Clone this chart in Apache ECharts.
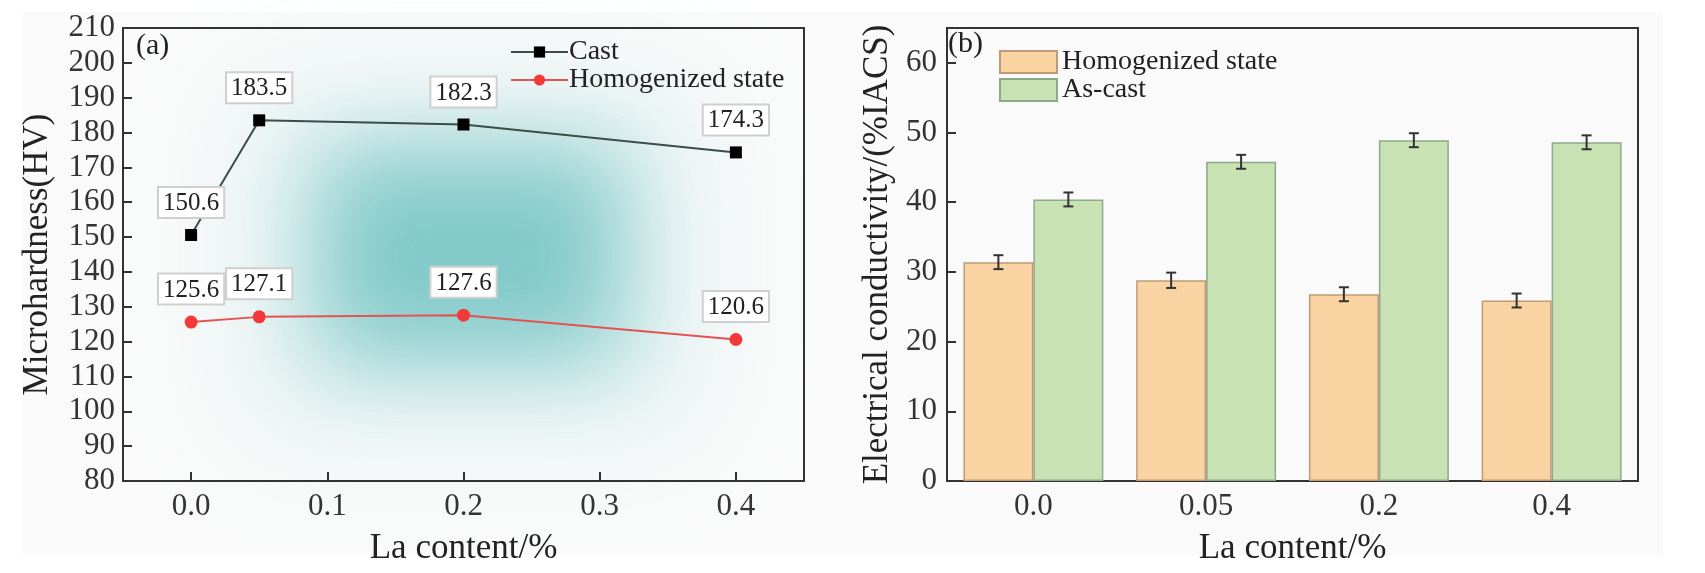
<!DOCTYPE html>
<html>
<head>
<meta charset="utf-8">
<script src="https://cdn.jsdelivr.net/npm/echarts@6/dist/echarts.min.js"></script>
<style>
  html, body { margin: 0; padding: 0; background: #fff; }
  #paper { position: absolute; left: 22px; top: 12px; width: 1641px; height: 543px; background: #fafafa; }
  #chart-a { position: absolute; left: 0; top: 0; width: 850px; height: 573px; }
  #chart-b { position: absolute; left: 850px; top: 0; width: 855px; height: 573px; }
</style>
</head>
<body>
<div id="paper"></div>
<div id="chart-a"></div>
<div id="chart-b"></div>
<script>
var FONT = '"Liberation Serif", "Times New Roman", serif';

// (a) microhardness
var laContent = [0, 0.05, 0.2, 0.4];
var castHV = [150.6, 183.5, 182.3, 174.3];
var homoHV = [125.6, 127.1, 127.6, 120.6];
var xTicksA = [0, 0.1, 0.2, 0.3, 0.4];

// (b) electrical conductivity
var laCats = ['0.0', '0.05', '0.2', '0.4'];
var homoEC = [31.4, 28.8, 26.8, 25.9];
var homoErr = [1.0, 1.1, 1.0, 1.0];
var castEC = [40.4, 45.8, 48.9, 48.6];
var castErr = [1.0, 1.0, 1.0, 1.0];

function pairs(xs, ys) {
  return xs.map(function (x, i) { return [x, ys[i]]; });
}

var boxLabel = {
  show: true,
  position: 'top',
  distance: 12,
  fontFamily: FONT,
  fontSize: 25,
  color: '#222',
  backgroundColor: '#fff',
  borderColor: '#cfcfcf',
  borderWidth: 2,
  padding: [3, 4, 1, 4],
  formatter: function (p) { return p.value[1].toFixed(1); }
};

// teal glow behind plot (a): only the blurred shadow of an off-canvas rect shows
function glow(x, y, w, h, color, blur) {
  return {
    type: 'rect',
    z: -5,
    silent: true,
    shape: { x: x + 3000, y: y, width: w, height: h },
    style: { fill: color, shadowColor: color, shadowBlur: blur, shadowOffsetX: -3000 }
  };
}

var chartA = echarts.init(document.getElementById('chart-a'));
chartA.setOption({
  animation: false,
  graphic: [
    glow(250, 95, 440, 330, 'rgba(170,220,220,0.55)', 120),
    glow(320, 150, 300, 210, 'rgb(132,202,202)', 90),
    {
      type: 'text',
      left: 136, top: 31,
      style: { text: '(a)', font: '30px ' + FONT, fill: '#222' }
    }
  ],
  grid: {
    left: 123, right: 46, top: 28, bottom: 92,
    show: true, borderColor: '#333', borderWidth: 2, backgroundColor: 'transparent'
  },
  legend: {
    orient: 'vertical',
    left: 505, top: 33,
    itemWidth: 57, itemHeight: 14, itemGap: 0,
    textStyle: { fontFamily: FONT, fontSize: 28, color: '#222', padding: [0, 0, 0, -4] },
    data: ['Cast', 'Homogenized state']
  },
  xAxis: {
    type: 'value',
    min: -0.05, max: 0.45,
    name: 'La content/%',
    nameLocation: 'middle',
    nameGap: 50,
    nameTextStyle: { fontFamily: FONT, fontSize: 35, color: '#222' },
    axisLine: { onZero: false, lineStyle: { color: '#333', width: 2 } },
    axisTick: { inside: true, length: 9, customValues: xTicksA, lineStyle: { color: '#333', width: 2 } },
    axisLabel: {
      customValues: xTicksA,
      margin: 10,
      fontFamily: FONT, fontSize: 31, color: '#333',
      formatter: function (v) { return v.toFixed(1); }
    },
    splitLine: { show: false }
  },
  yAxis: {
    type: 'value',
    min: 80, max: 210, interval: 10,
    name: 'Microhardness(HV)',
    nameLocation: 'middle',
    nameGap: 68,
    nameTextStyle: { fontFamily: FONT, fontSize: 35, color: '#222' },
    axisLine: { onZero: false, lineStyle: { color: '#333', width: 2 } },
    axisTick: { inside: true, length: 9, lineStyle: { color: '#333', width: 2 } },
    axisLabel: { margin: 8, fontFamily: FONT, fontSize: 31, color: '#333' },
    splitLine: { show: false }
  },
  series: [{
    name: 'Cast',
    type: 'line',
    data: pairs(laContent, castHV),
    symbol: 'rect',
    symbolSize: 12,
    lineStyle: { color: '#3c4d48', width: 2 },
    itemStyle: { color: '#000' },
    label: boxLabel,
    z: 3
  }, {
    name: 'Homogenized state',
    type: 'line',
    data: pairs(laContent, homoHV),
    symbol: 'circle',
    symbolSize: 13,
    lineStyle: { color: '#e45252', width: 2 },
    itemStyle: { color: '#f23a3a' },
    label: boxLabel,
    z: 3
  }]
});

// error bar drawn at the centre of one bar of the pair (side -1 left, +1 right)
function errorBars(side) {
  return function (params, api) {
    var idx = api.value(0);
    var lo = api.coord([idx, api.value(1)]);
    var hi = api.coord([idx, api.value(2)]);
    var band = api.size([1, 0])[0];
    var bw = band * 0.81 / 2;
    var x = lo[0] + side * bw / 2;
    var cap = 5;
    var st = { stroke: '#333', lineWidth: 2 };
    return {
      type: 'group',
      children: [
        { type: 'line', shape: { x1: x, y1: lo[1], x2: x, y2: hi[1] }, style: st },
        { type: 'line', shape: { x1: x - cap, y1: lo[1], x2: x + cap, y2: lo[1] }, style: st },
        { type: 'line', shape: { x1: x - cap, y1: hi[1], x2: x + cap, y2: hi[1] }, style: st }
      ]
    };
  };
}

function errData(vals, errs) {
  return vals.map(function (v, i) { return [i, v - errs[i], v + errs[i]]; });
}

var chartB = echarts.init(document.getElementById('chart-b'));
chartB.setOption({
  animation: false,
  graphic: [{
    type: 'text',
    left: 98, top: 29,
    style: { text: '(b)', font: '30px ' + FONT, fill: '#222' }
  }],
  grid: {
    left: 97, right: 67, top: 28, bottom: 92,
    show: true, borderColor: '#333', borderWidth: 2, backgroundColor: 'transparent'
  },
  legend: {
    orient: 'vertical',
    left: 144, top: 43,
    icon: 'rect',
    itemWidth: 57, itemHeight: 22, itemGap: 0,
    textStyle: { fontFamily: FONT, fontSize: 28, color: '#222' },
    data: ['Homogenized state', 'As-cast']
  },
  xAxis: {
    type: 'category',
    data: laCats,
    name: 'La content/%',
    nameLocation: 'middle',
    nameGap: 50,
    nameTextStyle: { fontFamily: FONT, fontSize: 35, color: '#222' },
    axisLine: { lineStyle: { color: '#333', width: 2 } },
    axisTick: { inside: true, length: 6, alignWithLabel: true, lineStyle: { color: '#333', width: 2 } },
    axisLabel: { margin: 10, fontFamily: FONT, fontSize: 31, color: '#333' }
  },
  yAxis: {
    type: 'value',
    min: 0, max: 65, interval: 10,
    name: 'Electrical conductivity/(%IACS)',
    nameLocation: 'middle',
    nameGap: 50,
    nameTextStyle: { fontFamily: FONT, fontSize: 35, color: '#222' },
    axisLine: { show: true, lineStyle: { color: '#333', width: 2 } },
    axisTick: { show: true, inside: true, length: 9, lineStyle: { color: '#333', width: 2 } },
    axisLabel: { margin: 10, showMaxLabel: false, fontFamily: FONT, fontSize: 31, color: '#333' },
    splitLine: { show: false }
  },
  series: [{
    name: 'Homogenized state',
    type: 'bar',
    data: homoEC,
    barGap: '0%',
    barCategoryGap: '19%',
    itemStyle: { color: '#f9d3a2', borderColor: '#c09a78', borderWidth: 1.5 }
  }, {
    name: 'As-cast',
    type: 'bar',
    data: castEC,
    itemStyle: { color: '#c9e2b4', borderColor: '#8ea88a', borderWidth: 1.5 }
  }, {
    type: 'custom',
    renderItem: errorBars(-1),
    data: errData(homoEC, homoErr),
    z: 5
  }, {
    type: 'custom',
    renderItem: errorBars(1),
    data: errData(castEC, castErr),
    z: 5
  }]
});
</script>
</body>
</html>
